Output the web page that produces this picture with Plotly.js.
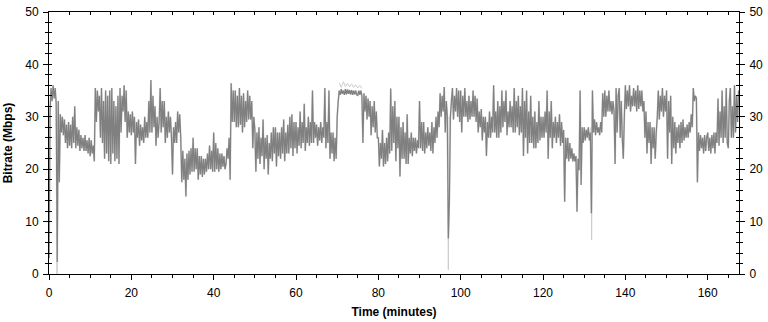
<!DOCTYPE html>
<html><head><meta charset="utf-8">
<script src="https://cdn.plot.ly/plotly-3.0.1.min.js"></script>
<style>html,body{margin:0;padding:0;background:#fff}#chart{width:768px;height:322px}</style>
</head><body><div id="chart"></div>
<script>
// Sampling of the bitrate trace: start time and step, in minutes
const timeStart = 0;
const timeStep = 0.25;
// Bitrate (Mbps), one value every 0.25 minute (one row = 5 minutes)
const bitrate = [
  3,31,35.5,33,36,33.5,35.5,32.5,2.3,33,17.5,30.5,27,30,26.5,29.5,25,28.5,24,29,
  24.5,28.5,24,30,25,32,24,28,24.5,27.5,23.5,26.5,24,26,23.5,26.5,23.5,25.5,23,26,
  22.5,25.5,23,24.5,21.5,35.5,29,35,31,34,26,35.5,25,33,22,35,23,34,21.5,35,
  21,35.5,23,33,21.5,32,22,34,21,35.5,27,34,31,36,29,35,26,31,27,30.5,
  26.5,31,27,30,21,29,26,29.5,24.5,28.5,25.5,28,25,30,26,29,26,33,27,37,
  27,34,28,32,24.5,30,26,29,35.5,27,33,28,33,25,30,26,31,27,30,26,
  19,28,25,29,25,31,27,30.5,26,17.5,23.5,18,22,14.8,23,18,23.5,19,24,19.5,
  26,19.5,24,20,24,18,22.5,19,22.5,18.5,22,19,22,19.5,23,20,24.5,20,23.5,19.5,
  27,19.5,25,20,24,19.5,23,20,23,20.5,22.5,20,21,24,22,26,18,36.4,29,35,
  29,35,28,34,28,35.5,28.5,34,27,34.5,28,33,29,35,29.5,34,29.5,33,24,30,
  27.5,19.5,27,22,28,21,26,22.5,29.5,20,26,22,26.5,19,25,22,27,21.5,28,23,
  28,20.5,27,22.5,27,22,28,23,29.5,21.5,27,23,28.5,23,30,24,30.5,22.5,29,24,
  29,23,28,24.5,31,24,29,25,32.5,23.5,28,25,30,24.5,29,25,35,25,29,26,
  28.5,24.5,28,25.5,29,25,28,26,35.5,24,29,25,35,22,27,23,27,21.5,26,22,
  30,33,35,34.2,35.3,34.4,35,34.2,35.3,34.3,35.2,34.4,35.1,34.3,35.1,34.2,35,34.3,35,34.2,
  34.1,35,34.2,35,34,25,34.5,31,34,29.5,33.5,30,33,26.5,32,28,33,27,31,26,
  26,20.5,25,22,27.5,20.5,25,21,26,21.5,27,23,35.4,23.5,32,25,33,21.5,30,24,
  30,18.6,28,22,29,22,27,21,30.5,21,26,23,27,22.5,26,23.5,26,23,25.5,24,
  33,24,29,23.5,29,23,27,24,28,24.5,27,23.5,29,23,28,25,30,26,31,28,
  34.5,30,34,31,35.7,27,33,30,6.8,14,30,33,35.5,29.5,34,31,35.5,30,35,29,
  35,27,34,30,35.5,30,33,29,34,29.5,33,30,35,30,34,29,33.5,27,31,28,
  31.5,25.5,30,27,30,22.5,29,26,31,26,30,27,36,27,31,26,33,26,32,27,
  35,28,33,29,35,26.5,31,28,33,28,32,27,35.5,27,33,28,34,26.5,32,27,
  35.5,22.5,33,26,35,23,31,25,34,25,30,24,31,24,29,25,33,25.5,30,26,
  30,26,31,27,35,22,31,26,33,24,29,26,30,25,29,26,30.5,24.5,29,25,
  27.5,13.8,26,22,26,21.5,25,22,24,21.5,23,21.5,22.5,11.9,22,19.8,35,17,28,25,
  28,25.5,27.5,26,28,25.5,27,11.6,35,27,29.5,26.5,29,27,28,26.5,29,27,34.5,30,
  35,30,34,31,35,31,33,30.5,33,31,21,35.5,27,34,35.5,26,33,26,22,30,
  36,31.5,35,32,36,31,34,32,35.5,32,35,31,36,31.5,35,32,35,31,33,26,
  31,23,29,25,29,21,28,24,28,22,27,30,35,29.5,34,31,35.5,30,34,31,
  35,22,33,27,34,21,30,24,29,23,28,25,28.5,24,29,25,29.5,25.5,28,26,
  28.5,26,29,27,30.5,28,35.5,33,34,33.5,17.5,27,23.5,26.5,24,26,23,26.5,23.5,26,
  27,23.5,26,23,26.5,24,27,23,27,25,33.5,24.5,31,26,35,25,32,26,35.5,25,
  24,33,35.5,26,32,26,36,27,34,29,35
];
// Peak (light grey) excursions visible above / below the mean trace
const peakTimes  = [1.8,1.95,2.1, null, 70.5,71,71.5,72,72.5,73,73.5,74,74.5,75,75.5,76, null, 96.8,97.0,97.2, null, 131.6,131.8,132.0];
const peakValues = [30,0,30, null, 36.5,35.6,36.7,35.8,36.4,35.7,36.3,35.6,36.1,35.5,36,35.4, null, 30,0.8,30, null, 28,6.5,28];

const xTicks = [0,20,40,60,80,100,120,140,160];
const yTicks = [0,10,20,30,40,50];

const XR = [0, 167.6], YR = [0, 50];
const font = {family: 'Arial, "Liberation Sans", sans-serif', size: 12, color: '#000'};

const traces = [
  {type:'scatter', mode:'lines', x: peakTimes, y: peakValues, connectgaps:false,
   line:{color:'#cccccc', width:1}, hoverinfo:'skip', showlegend:false},
  {type:'scatter', mode:'lines', x0: timeStart, dx: timeStep, y: bitrate,
   line:{color:'#d4d4d4', width:1.8, simplify:false}, hoverinfo:'skip', showlegend:false},
  {type:'scatter', mode:'lines', x0: timeStart, dx: timeStep, y: bitrate,
   line:{color:'#808080', width:1.2, simplify:false}, showlegend:false},
  {type:'scatter', x:[], y:[], xaxis:'x2', yaxis:'y', showlegend:false},
  {type:'scatter', x:[], y:[], xaxis:'x', yaxis:'y2', showlegend:false},
  {type:'scatter', x:[], y:[], xaxis:'x', yaxis:'y3', showlegend:false},
  {type:'scatter', x:[], y:[], xaxis:'x', yaxis:'y4', showlegend:false}
];

const axCommon = {showgrid:false, zeroline:false, linecolor:'#000', linewidth:1, tickcolor:'#000', tickwidth:1, fixedrange:true};

const layout = {
  width:768, height:322,
  margin:{l:49, r:29, t:12, b:48},
  paper_bgcolor:'#fff', plot_bgcolor:'#fff',
  font: font,
  xaxis: Object.assign({}, axCommon, {
    range: XR, tickvals: xTicks, ticktext: xTicks.map(String),
    showline:true, ticks:'outside', ticklen:5,
    minor:{dtick:5, tick0:0, ticks:'outside', ticklen:3, tickcolor:'#000'},
    tickfont:{size:12}, ticklabelstandoff:3,
    title:{text:'<b>Time (minutes)</b>', font:{size:12}, standoff:8}
  }),
  xaxis2: Object.assign({}, axCommon, {
    range: XR, overlaying:'x', side:'top', anchor:'y',
    showline:true, ticks:'inside', ticklen:3, dtick:5, tick0:0, showticklabels:false
  }),
  yaxis: Object.assign({}, axCommon, {
    range: YR, tickvals: yTicks, ticktext: yTicks.map(String),
    showline:true, ticks:'outside', ticklen:5,
    minor:{dtick:2, tick0:0, ticks:'outside', ticklen:3, tickcolor:'#000'},
    tickfont:{size:12}, ticklabelstandoff:2,
    title:{text:'<b>Bitrate (Mbps)</b>', font:{size:12}, standoff:10}
  }),
  yaxis2: Object.assign({}, axCommon, {
    range: YR, overlaying:'y', side:'left', anchor:'x',
    showline:false, ticks:'inside', ticklen:3, dtick:2, tick0:0, showticklabels:false
  }),
  yaxis3: Object.assign({}, axCommon, {
    range: YR, overlaying:'y', side:'right', anchor:'x',
    tickvals: yTicks, ticktext: yTicks.map(String),
    showline:true, ticks:'outside', ticklen:5,
    minor:{dtick:2, tick0:0, ticks:'outside', ticklen:3, tickcolor:'#000'},
    tickfont:{size:12}, ticklabelstandoff:2
  }),
  yaxis4: Object.assign({}, axCommon, {
    range: YR, overlaying:'y', side:'right', anchor:'x',
    showline:false, ticks:'inside', ticklen:3, dtick:2, tick0:0, showticklabels:false
  })
};

Plotly.newPlot('chart', traces, layout, {displayModeBar:false, staticPlot:true});
</script>
</body></html>
